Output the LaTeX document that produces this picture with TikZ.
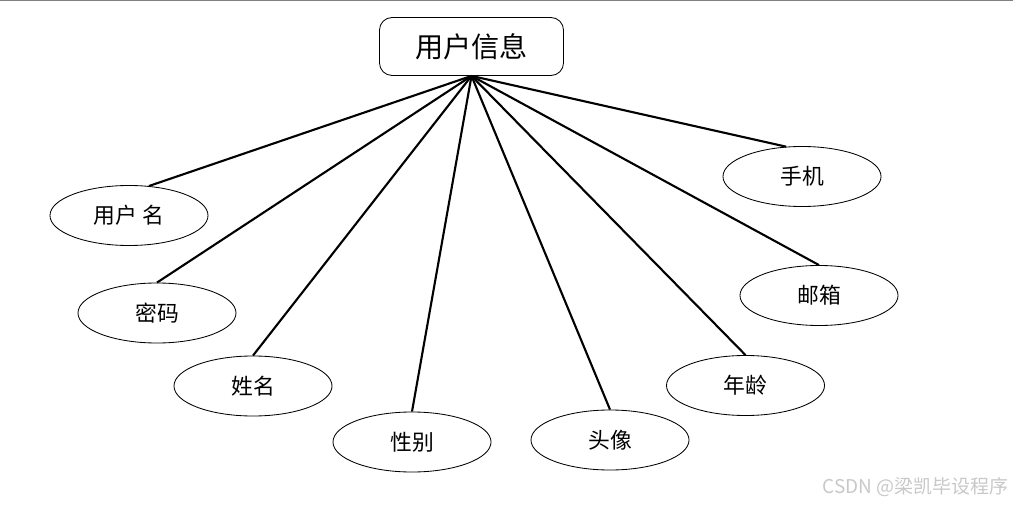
\documentclass[tikz,border=0pt]{standalone}
\usepackage{fontspec}
\usepackage{tikz}
\usetikzlibrary{shapes.geometric}
\usepackage{xcolor}
\setmainfont{Noto Sans CJK SC}
\definecolor{edgegray}{RGB}{128,128,128}
\definecolor{markgray}{RGB}{200,200,200}

\begin{document}
\begin{tikzpicture}[x=0.025cm,y=-0.025cm,
  every node/.style={font=\fontsize{15.5pt}{17pt}\selectfont},
  attr/.style={ellipse,draw,line width=0.6pt,minimum width=3.95cm,minimum height=1.5cm,inner sep=0pt}]
\useasboundingbox (0,0) rectangle (1013,505);
\draw[edgegray,line width=0.8pt] (0,0.6) -- (1013,0.6);
\node[draw,rounded corners=9pt,line width=0.6pt,minimum width=4.6cm,minimum height=1.45cm,
  font=\fontsize{20pt}{22pt}\selectfont] (info) at (471.5,46.5) {用户信息};
\node[attr] (uname) at (129,215.5) {用户\hspace{4pt}名};
\node[attr] (pwd) at (157,313) {密码};
\node[attr] (name) at (253,386) {姓名};
\node[attr] (sex) at (412,442) {性别};
\node[attr] (avatar) at (610,440) {头像};
\node[attr] (age) at (745.5,385.5) {年龄};
\node[attr] (mail) at (819,295.5) {邮箱};
\node[attr] (phone) at (802,176.5) {手机};
\draw[line width=1.5pt] (info.south) -- (uname.56);
\draw[line width=1.5pt] (info.south) -- (pwd.north);
\draw[line width=1.5pt] (info.south) -- (name.north);
\draw[line width=1.5pt] (info.south) -- (sex.north);
\draw[line width=1.5pt] (info.south) -- (avatar.north);
\draw[line width=1.5pt] (info.south) -- (age.north);
\draw[line width=1.5pt] (info.south) -- (mail.north);
\draw[line width=1.5pt] (info.south) -- (phone.118);
\node[text=markgray,anchor=east,inner sep=0pt,font=\fontsize{13.5pt}{15pt}\selectfont] (mark) at (1009,487) {CSDN @梁凯毕设程序};
\end{tikzpicture}
\end{document}
